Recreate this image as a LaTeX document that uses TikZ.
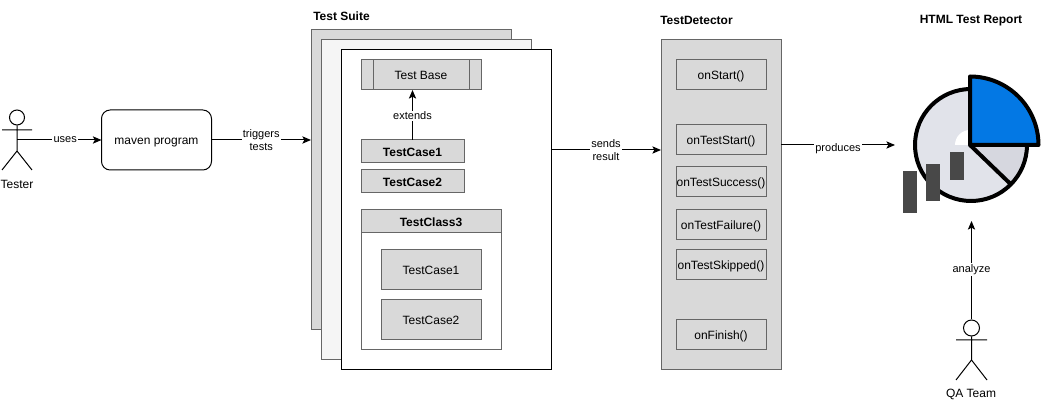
\documentclass[tikz,border=0pt]{standalone}
\usepackage{fontspec}
\setmainfont{Liberation Sans}
\usetikzlibrary{arrows.meta}
\definecolor{boxgrey}{RGB}{217,217,217}
\definecolor{linegrey}{RGB}{102,102,102}
\definecolor{pieblue}{RGB}{3,120,228}
\definecolor{piedisc}{RGB}{225,227,234}
\definecolor{pieslice}{RGB}{214,215,223}
\definecolor{bargrey}{RGB}{72,72,72}
\tikzset{
  box/.style={draw=linegrey,fill=boxgrey,line width=0.75pt,anchor=north west,inner sep=0pt,outer sep=0pt,text height=7.5pt,text depth=0pt,font=\fontsize{9}{11}\selectfont},
  boldbox/.style={box,font=\fontsize{9}{11}\selectfont\bfseries},
  conn/.style={line width=0.75pt,-{Stealth[length=6.5pt,width=5.5pt,inset=1.5pt]}},
  edgelabel/.style={fill=white,inner sep=1pt,align=center,font=\fontsize{8.25}{10}\selectfont},
  title/.style={inner sep=0pt,font=\fontsize{9}{11}\selectfont\bfseries},
  actor/.style={line width=0.75pt},
  actorlabel/.style={inner sep=0pt,font=\fontsize{9}{11}\selectfont},
  piepart/.style={draw=black,line width=3pt,line join=round}
}
\begin{document}
\begin{tikzpicture}[x=0.75pt,y=0.75pt,yscale=-1,xscale=1]
\useasboundingbox (0,0) rectangle (1047,402);

%Tester
\node [actor,draw,circle,minimum size=11.25pt,inner sep=0pt] (testerhead) at (17,117.5) {};
\coordinate (testerhip) at (17,151);
\coordinate (testerhand) at (17,140);
\draw [actor] (testerhead.south) -- (testerhip) -- (2,170) (testerhip) -- (32,170) (2,130) -- (32,130);
\node [actorlabel] (tester) at (17,184) {Tester};

%Maven
\node [box,fill=white,draw=black,rounded corners=6.5pt,minimum width=82.5pt,minimum height=45pt] (maven) at (101.5,110) {maven program};

%Test suite sheets
\node [box,minimum width=150pt,minimum height=225pt] (sheetback) at (311,30) {};
\node [box,fill=white!96!black,minimum width=157.5pt,minimum height=240pt] (sheetmid) at (321,40) {};
\node [box,fill=white,draw=black,minimum width=157.5pt,minimum height=240pt] (sheetfront) at (341,50) {};
\node [title,anchor=west] (suitetitle) at (313,16) {Test Suite};

%Test base
\node [box,minimum width=90pt,minimum height=22.5pt] (testbase) at (361,60) {Test Base};
\draw [draw=linegrey,line width=0.75pt] ([xshift=9pt]testbase.north west) -- ([xshift=9pt]testbase.south west);
\draw [draw=linegrey,line width=0.75pt] ([xshift=-9pt]testbase.north east) -- ([xshift=-9pt]testbase.south east);

%Bold test cases
\node [boldbox,minimum width=77.25pt,minimum height=17.25pt] (casetop) at (361,140) {TestCase1};
\node [boldbox,minimum width=77.25pt,minimum height=17.25pt] (casesecond) at (361,170) {TestCase2};

%Test class
\node [box,fill=white,minimum width=105pt,minimum height=105pt] (testclass) at (361,210) {};
\node [boldbox,minimum width=105pt,minimum height=17.25pt] (classhead) at (361,210) {TestClass3};
\node [box,minimum width=75pt,minimum height=30pt] (classcaseone) at (381,250) {TestCase1};
\node [box,minimum width=75pt,minimum height=30pt] (classcasetwo) at (381,300) {TestCase2};

%Test detector
\node [box,minimum width=90pt,minimum height=247.5pt] (detector) at (661,40) {};
\node [title,anchor=west] (detectortitle) at (660,20) {TestDetector};
\node [box,minimum width=67.5pt,minimum height=22.5pt] (onstart) at (676,60) {onStart()};
\node [box,minimum width=67.5pt,minimum height=22.5pt] (onteststart) at (676,125) {onTestStart()};
\node [box,minimum width=67.5pt,minimum height=22.5pt] (onsuccess) at (676,167) {onTestSuccess()};
\node [box,minimum width=67.5pt,minimum height=22.5pt] (onfailure) at (676,210) {onTestFailure()};
\node [box,minimum width=67.5pt,minimum height=22.5pt] (onskipped) at (676,250) {onTestSkipped()};
\node [box,minimum width=67.5pt,minimum height=22.5pt] (onfinish) at (676,320) {onFinish()};

%Report pie
\node [title] (reporttitle) at (971,20.5) {HTML Test Report};
\fill [piedisc] (971,145) circle [radius=56];
\fill [white] (955,145) arc [start angle=180,end angle=270,radius=15] -- (970,145) -- cycle;
\fill [pieslice] (970,145) -- (1027,145) arc [start angle=0,end angle=43.5,radius=56] -- cycle;
\draw [piepart] (971,145) circle [radius=56];
\draw [piepart] (970,145) -- (1010,183.5);
\filldraw [piepart,fill=pieblue] (970,145) -- (970,76.5) arc [start angle=-90,end angle=0,radius=68.5] -- cycle;
\fill [bargrey] (903,171) rectangle (917,213);
\fill [bargrey] (926,164) rectangle (940,201);
\fill [bargrey] (950,152) rectangle (964,180);
\coordinate (reportleft) at (895,145);
\coordinate (reportbottom) at (971.5,221);

%QA team
\node [actor,draw,circle,minimum size=12pt,inner sep=0pt] (qahead) at (971.5,328) {};
\coordinate (qahip) at (971.5,360);
\draw [actor] (qahead.south) -- (qahip) -- (956,380) (qahip) -- (987,380) (956,340) -- (987,340);
\node [actorlabel] (qateam) at (971,394) {QA Team};

%Connectors
\draw [conn] (testerhand) -- (testerhand -| maven.west) node [edgelabel,pos=0.57] {uses};
\draw [conn] (maven.east) -- (maven.east -| sheetback.west) node [edgelabel,midway] {triggers\\tests};
\draw [conn] (casetop.north) -- (casetop.north |- testbase.south) node [edgelabel,midway,yshift=-0.75pt] {extends};
\draw [conn] (sheetfront.east |- 0,150) -- (detector.west |- 0,150) node [edgelabel,midway] {sends\\result};
\draw [conn] (detector.east |- reportleft) -- (reportleft) node [edgelabel,midway,yshift=-3pt] {produces};
\draw [conn] (qahead.north) -- (reportbottom) node [edgelabel,pos=0.51] {analyze};

\end{tikzpicture}
\end{document}
